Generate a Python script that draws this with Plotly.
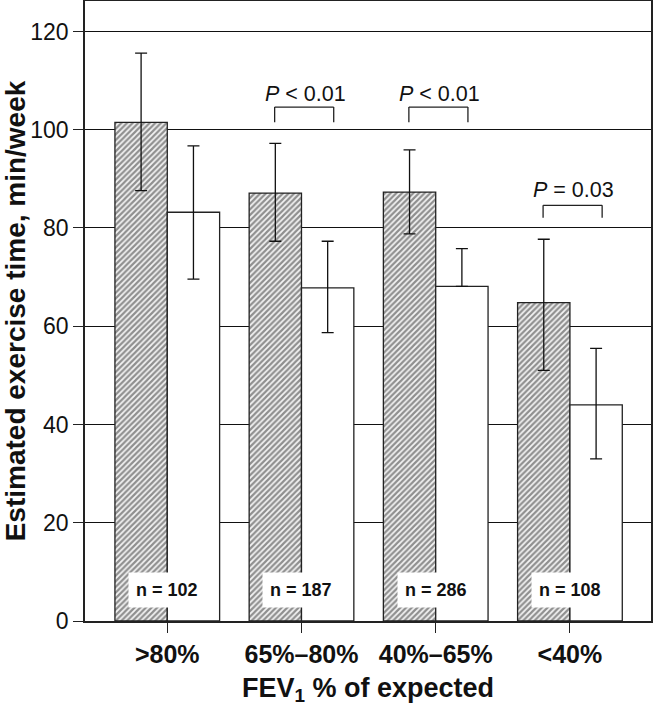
import plotly.graph_objects as go

categories = [">80%", "65%–80%", "40%–65%", "<40%"]
hatched_values = [101.5, 87.1, 87.3, 64.8]
hatched_err_plus = [14.1, 10.1, 8.6, 12.9]
hatched_err_minus = [13.9, 9.8, 8.5, 13.8]
open_values = [83.2, 67.8, 68.1, 44.0]
open_err_plus = [13.5, 9.5, 7.7, 11.5]
open_err_minus = [13.6, 9.1, 0.0, 11.0]
n_labels = ["n = 102", "n = 187", "n = 286", "n = 108"]
p_labels = ["<i>P</i> &lt; 0.01", "<i>P</i> &lt; 0.01", "<i>P</i> = 0.03"]
p_groups = [1, 2, 3]
bracket_top = [104.6, 104.6, 84.6]
bracket_bottom = [101.5, 101.5, 82.1]
p_text_y = [107.3, 107.3, 87.7]

FONT = "Liberation Sans, Arial, sans-serif"

fig = go.Figure()
fig.add_trace(go.Bar(
    x=categories, y=hatched_values,
    marker=dict(color="white", line=dict(color="#222", width=1.3),
                pattern=dict(shape="/", fgcolor="#2a2a2a", bgcolor="#f4f4f4", size=4, solidity=0.55)),
    error_y=dict(type="data", symmetric=False, array=hatched_err_plus, arrayminus=hatched_err_minus,
                 color="#111", thickness=1.3, width=6),
    showlegend=False,
))
fig.add_trace(go.Bar(
    x=categories, y=open_values,
    marker=dict(color="white", line=dict(color="#222", width=1.3)),
    error_y=dict(type="data", symmetric=False, array=open_err_plus, arrayminus=open_err_minus,
                 color="#111", thickness=1.3, width=6),
    showlegend=False,
))

for i, lab in enumerate(n_labels):
    fig.add_annotation(x=i, y=6.3, text="<b>" + lab + "</b>", showarrow=False,
                       font=dict(family=FONT, size=18, color="#111"),
                       bgcolor="white", borderpad=7, xref="x", yref="y")

for g, lab, top, bot, ty in zip(p_groups, p_labels, bracket_top, bracket_bottom, p_text_y):
    x0, x1 = g - 0.2, g + 0.24
    fig.add_shape(type="line", x0=x0, x1=x1, y0=top, y1=top, xref="x", yref="y",
                  line=dict(color="#222", width=1.3))
    fig.add_shape(type="line", x0=x0, x1=x0, y0=top, y1=bot, xref="x", yref="y",
                  line=dict(color="#222", width=1.3))
    fig.add_shape(type="line", x0=x1, x1=x1, y0=top, y1=bot, xref="x", yref="y",
                  line=dict(color="#222", width=1.3))
    fig.add_annotation(x=g + 0.03, y=ty, text=lab, showarrow=False,
                       font=dict(family=FONT, size=21.5, color="#111"), xref="x", yref="y")

fig.update_layout(
    width=653, height=707,
    margin=dict(l=85, r=2, t=1, b=86),
    paper_bgcolor="white", plot_bgcolor="white",
    barmode="group", bargap=0.22, bargroupgap=0,
    font=dict(family=FONT, color="#111"),
    xaxis=dict(type="category", range=[-0.613, 3.604], showline=True, linecolor="#222", linewidth=1.5,
               mirror=True, ticks="outside", ticklen=10, tickcolor="#222", tickwidth=1.3,
               automargin=False,
               tickfont=dict(family=FONT, size=25, color="#111"),
               tickvals=categories, ticktext=["<b>" + c + "</b>" for c in categories],
               title=dict(text="<b>FEV<sub>1</sub> % of expected</b>",
                          font=dict(family=FONT, size=27, color="#111"), standoff=11)),
    yaxis=dict(range=[0, 126.2], showline=True, linecolor="#222", linewidth=1.5, mirror=True,
               ticks="outside", ticklen=10, tickcolor="#222", tickwidth=1.3,
               automargin=False,
               tickvals=[0, 20, 40, 60, 80, 100, 120],
               showgrid=True, gridcolor="#111", gridwidth=1.3, zeroline=False,
               tickfont=dict(family=FONT, size=23, color="#111"),
               title=dict(text="<b>Estimated exercise time, min/week</b>",
                          font=dict(family=FONT, size=28, color="#111"), standoff=6)),
)

fig.write_html("out.html", config={"displayModeBar": False},
               post_script="document.body.style.margin='0';document.body.style.padding='0';")
